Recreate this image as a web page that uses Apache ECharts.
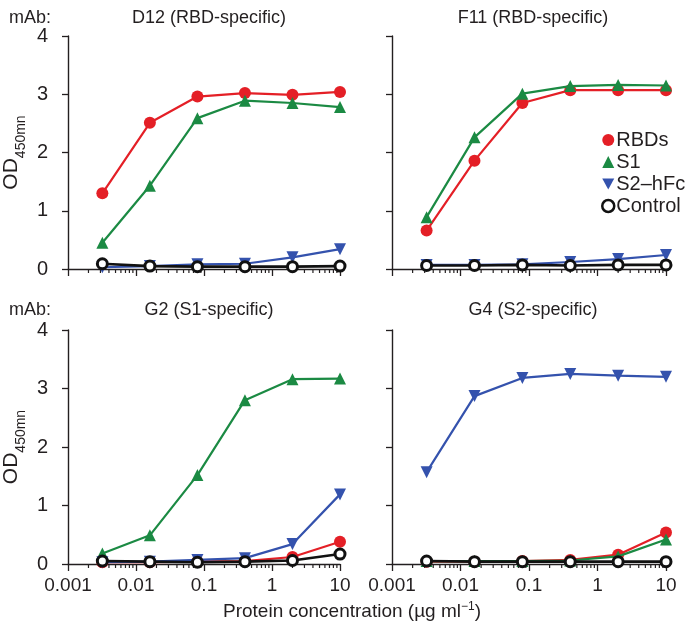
<!DOCTYPE html>
<html>
<head>
<meta charset="utf-8">
<script src="https://cdn.jsdelivr.net/npm/echarts@6/dist/echarts.min.js"></script>
<style>
html,body{margin:0;padding:0;background:#fff;}
#c{width:685px;height:632px;}
</style>
</head>
<body>
<div id="c"></div>
<script>
// ---- data ----
const concentrations = [0.0032, 0.016, 0.08, 0.4, 2, 10];
const seriesNames = ['RBDs', 'S1', 'S2\u2013hFc', 'Control'];
const panelTitles = ['D12 (RBD-specific)', 'F11 (RBD-specific)', 'G2 (S1-specific)', 'G4 (S2-specific)'];
const xTickLabels = ['0.001', '0.01', '0.1', '1', '10'];
const yTickLabels = ['0', '1', '2', '3', '4'];
const minorTickValues = [0.002,0.003,0.004,0.005,0.006,0.007,0.008,0.009,
  0.02,0.03,0.04,0.05,0.06,0.07,0.08,0.09,
  0.2,0.3,0.4,0.5,0.6,0.7,0.8,0.9,
  2,3,4,5,6,7,8,9];

const d12_RBDs    = [1.30, 2.51, 2.96, 3.02, 2.99, 3.04];
const d12_S1      = [0.45, 1.43, 2.59, 2.89, 2.85, 2.78];
const d12_S2hFc   = [0.03, 0.05, 0.08, 0.09, 0.20, 0.34];
const d12_Control = [0.09, 0.05, 0.04, 0.04, 0.04, 0.05];

const f11_RBDs    = [0.66, 1.86, 2.85, 3.07, 3.07, 3.07];
const f11_S1      = [0.89, 2.26, 3.01, 3.14, 3.16, 3.15];
const f11_S2hFc   = [0.07, 0.07, 0.08, 0.12, 0.17, 0.24];
const f11_Control = [0.06, 0.06, 0.07, 0.06, 0.07, 0.07];

const g2_RBDs    = [0.03, 0.03, 0.04, 0.05, 0.12, 0.38];
const g2_S1      = [0.18, 0.49, 1.52, 2.80, 3.16, 3.17];
const g2_S2hFc   = [0.03, 0.04, 0.07, 0.10, 0.34, 1.19];
const g2_Control = [0.05, 0.04, 0.03, 0.04, 0.06, 0.17];

const g4_RBDs    = [0.04, 0.04, 0.05, 0.07, 0.16, 0.54];
const g4_S1      = [0.05, 0.05, 0.05, 0.06, 0.13, 0.42];
const g4_S2hFc   = [1.57, 2.87, 3.18, 3.25, 3.22, 3.20];
const g4_Control = [0.05, 0.04, 0.04, 0.04, 0.04, 0.04];

const panelData = [
  [d12_RBDs, d12_S1, d12_S2hFc, d12_Control],
  [f11_RBDs, f11_S1, f11_S2hFc, f11_Control],
  [g2_RBDs, g2_S1, g2_S2hFc, g2_Control],
  [g4_RBDs, g4_S1, g4_S2hFc, g4_Control]
];

// ---- styles ----
const FONT = '"Liberation Sans", Arial, Helvetica, sans-serif';
const TXT = '#231f20';
const colors = ['#e41f26', '#1b8a43', '#3452ad', '#111111'];
const symbols = ['circle', 'triangle', 'triangle', 'circle'];
const symbolRotates = [0, 0, 180, 0];
const symbolSizes = [12, 12, 12, 10];

const grids = [
  {left: 68, top: 36, width: 272, height: 233},
  {left: 392, top: 36, width: 274, height: 233},
  {left: 68, top: 330, width: 272, height: 234},
  {left: 392, top: 330, width: 274, height: 234}
];

const xAxes = [], yAxes = [], series = [];
grids.forEach((g, i) => {
  const bottom = i >= 2, left = (i % 2) === 0;
  xAxes.push({
    type: 'log', logBase: 10, min: 0.001, max: 10, gridIndex: i,
    axisLine: {show: true, lineStyle: {color: TXT, width: 1.4}},
    axisTick: {show: true, length: 7, lineStyle: {color: TXT, width: 1.3}},
    minorTick: {show: false},
    splitLine: {show: false},
    axisLabel: {
      show: bottom, margin: 12, fontSize: 19, color: TXT, fontFamily: FONT,
      formatter: v => {
        const k = Math.round(Math.log10(v)) + 3;
        return xTickLabels[k] !== undefined ? xTickLabels[k] : '';
      }
    }
  });
  yAxes.push({
    type: 'value', min: 0, max: 4, interval: 1, gridIndex: i,
    axisLine: {show: true, lineStyle: {color: TXT, width: 1.4}},
    axisTick: {show: true, length: 6, lineStyle: {color: TXT, width: 1.3}},
    splitLine: {show: false},
    axisLabel: {show: left, margin: 20, fontSize: 20, color: TXT, fontFamily: FONT,
      formatter: v => yTickLabels[Math.round(v)]},
    name: left ? '{m|OD}{s|450mn}' : '',
    nameLocation: 'middle', nameRotate: 90, nameGap: 46,
    nameTextStyle: {
      color: TXT, fontFamily: FONT,
      rich: {
        m: {fontSize: 21, fontFamily: FONT, color: TXT, verticalAlign: 'bottom', lineHeight: 24},
        s: {fontSize: 14, fontFamily: FONT, color: TXT, verticalAlign: 'bottom', lineHeight: 17, padding: [0, 0, -6, 0]}
      }
    }
  });
  // minor ticks on log axis
  series.push({
    type: 'custom', xAxisIndex: i, yAxisIndex: i, silent: true, clip: false, z: 1,
    data: minorTickValues.map(v => [v, 0]),
    renderItem: (params, api) => {
      const p = api.coord([api.value(0), api.value(1)]);
      return {type: 'line', shape: {x1: p[0], y1: p[1], x2: p[0], y2: p[1] + 4},
        style: {stroke: TXT, lineWidth: 1.2}};
    }
  });
  panelData[i].forEach((vals, s) => {
    series.push({
      name: seriesNames[s], type: 'line', xAxisIndex: i, yAxisIndex: i,
      data: concentrations.map((c, k) => [c, vals[k]]),
      symbol: symbols[s], symbolSize: symbolSizes[s], symbolRotate: symbolRotates[s],
      showAllSymbol: true, clip: false, animation: false,
      lineStyle: {color: colors[s], width: s === 3 ? 2.6 : 2.2},
      itemStyle: s === 3 ? {color: '#ffffff', borderColor: colors[s], borderWidth: 3}
                         : {color: colors[s], borderWidth: 0},
      z: 2 + s
    });
  });
});

const titleStyle = {fontSize: 18, fontWeight: 'normal', color: TXT, fontFamily: FONT};
const option = {
  backgroundColor: '#fff',
  animation: false,
  title: [
    {text: 'mAb:', left: 4, top: 4, textStyle: titleStyle},
    {text: panelTitles[0], left: 204, top: 4, textAlign: 'center', textStyle: titleStyle},
    {text: panelTitles[1], left: 528, top: 4, textAlign: 'center', textStyle: titleStyle},
    {text: 'mAb:', left: 4, top: 296, textStyle: titleStyle},
    {text: panelTitles[2], left: 204, top: 296, textAlign: 'center', textStyle: titleStyle},
    {text: panelTitles[3], left: 528, top: 296, textAlign: 'center', textStyle: titleStyle},
    {text: 'Protein concentration (\u00b5g ml{sup|\u22121})', left: 347, top: 596, textAlign: 'center',
      textStyle: Object.assign({}, titleStyle, {fontSize: 19, rich: {sup: {fontSize: 12, fontFamily: FONT, color: TXT, verticalAlign: 'top', padding: [0, 0, 9, 0]}}})}
  ],
  legend: {
    orient: 'vertical', left: 596, top: 125, itemWidth: 12, itemHeight: 12, itemGap: 2,
    data: [
      {name: seriesNames[0], icon: 'circle'},
      {name: seriesNames[1], icon: 'triangle'},
      {name: seriesNames[2], icon: 'path://M0,0 L10,0 L5,9 Z'},
      {name: seriesNames[3], icon: 'circle', itemStyle: {color: '#ffffff', borderColor: '#111111', borderWidth: 2.5}}
    ],
    textStyle: {fontSize: 20, color: TXT, fontFamily: FONT, padding: [0, 0, 0, -3]}
  },
  grid: grids,
  xAxis: xAxes,
  yAxis: yAxes,
  series: series
};
const chart = echarts.init(document.getElementById('c'), null, {renderer: 'canvas'});
chart.setOption(option);
</script>
</body>
</html>
